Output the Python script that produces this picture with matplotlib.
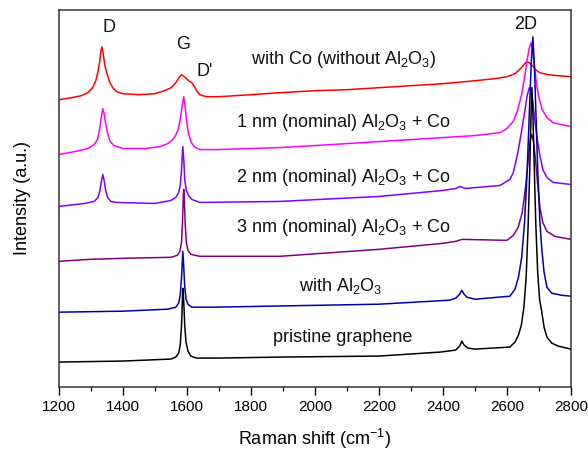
import matplotlib
matplotlib.use("Agg")
import matplotlib.pyplot as plt
from matplotlib.ticker import MultipleLocator

plt.rcParams['font.family'] = ['Liberation Sans', 'DejaVu Sans']
plt.rcParams['mathtext.default'] = 'regular'

# Raman shift (cm^-1) and intensity (a.u., stacked)
red_x = [1200, 1240, 1270, 1290, 1305, 1315, 1322, 1327, 1331, 1334, 1338, 1343, 1350, 1358, 1368, 1380,
         1400, 1450, 1500, 1530, 1550, 1565, 1575, 1583, 1592, 1605, 1615, 1622, 1630, 1640, 1660, 1700,
         1800, 1890, 2000, 2100, 2200, 2300, 2400, 2500, 2560, 2600, 2625, 2645, 2655, 2662, 2670, 2680,
         2690, 2703, 2730, 2760, 2800]
red_y = [288, 290, 292, 295, 300, 307, 316, 326, 336, 341, 335, 323, 314, 306, 300, 296,
         294, 293, 294, 297, 300, 305, 310, 313, 311, 307, 305, 302, 297, 293, 291, 291,
         293, 295, 297, 298, 300, 302, 304, 307, 309, 311, 314, 320, 324, 326, 325, 322,
         318, 315, 313, 312, 311]

mag_x = [1200, 1250, 1290, 1310, 1320, 1327, 1332, 1337, 1341, 1346, 1352, 1360, 1372, 1400, 1470, 1516,
         1540, 1556, 1566, 1574, 1580, 1585, 1590, 1594, 1599, 1605, 1612, 1622, 1640, 1700, 1890, 2000,
         2200, 2400, 2500, 2578, 2600, 2619, 2632, 2645, 2655, 2663, 2670, 2675, 2680, 2686, 2693, 2700,
         2710, 2725, 2744, 2770, 2800]
mag_y = [233, 236, 239, 243, 248, 258, 270, 279, 274, 264, 254, 246, 242, 239, 239, 241,
         244, 248, 253, 260, 270, 282, 291, 282, 266, 254, 246, 241, 238, 238, 240, 242,
         246, 250, 252, 255, 259, 266, 276, 292, 310, 328, 340, 345, 338, 322, 302, 290,
         278, 270, 265, 263, 261]

vio_x = [1200, 1280, 1310, 1322, 1328, 1333, 1337, 1341, 1346, 1352, 1362, 1380, 1500, 1550, 1565, 1574,
         1579, 1583, 1587, 1590, 1593, 1598, 1605, 1615, 1640, 1890, 2200, 2400, 2440, 2453, 2470, 2578,
         2609, 2620, 2634, 2645, 2655, 2663, 2670, 2675, 2681, 2688, 2695, 2703, 2712, 2725, 2745, 2800]
vio_y = [181, 184, 186, 190, 197, 207, 213, 207, 197, 190, 186, 185, 184, 187, 190, 195,
         202, 218, 241, 228, 208, 197, 192, 188, 185, 186, 191, 197, 199, 201, 199, 202,
         208, 215, 235, 255, 275, 292, 300, 297, 285, 265, 248, 232, 218, 210, 205, 203]

pur_x = [1200, 1300, 1400, 1550, 1570, 1578, 1583, 1586, 1589, 1590, 1592, 1595, 1598, 1603, 1612, 1640,
         1890, 2200, 2400, 2440, 2460, 2600, 2620, 2635, 2648, 2658, 2667, 2673, 2678, 2683, 2690, 2697,
         2703, 2712, 2725, 2750, 2800]
pur_y = [126, 128, 129, 130, 132, 136, 145, 165, 195, 198, 185, 160, 145, 137, 133, 131,
         131, 138, 144, 146, 148, 147, 152, 160, 175, 200, 230, 248, 253, 246, 225, 200,
         180, 165, 156, 151, 148]

blu_x = [1200, 1400, 1540, 1565, 1574, 1579, 1583, 1587, 1590, 1593, 1597, 1603, 1615, 1680, 2200, 2420,
         2440, 2452, 2459, 2466, 2475, 2500, 2609, 2625, 2636, 2646, 2655, 2663, 2670, 2676, 2681, 2686,
         2691, 2697, 2703, 2709, 2716, 2725, 2740, 2770, 2800]
blu_y = [75, 76, 78, 80, 84, 92, 110, 136, 120, 100, 88, 83, 80, 80, 83, 87,
         89, 93, 97, 93, 90, 88, 91, 98, 110, 130, 165, 215, 275, 325, 351, 320,
         270, 210, 165, 138, 115, 100, 94, 92, 91]

blk_x = [1200, 1400, 1550, 1565, 1574, 1579, 1583, 1587, 1590, 1593, 1597, 1603, 1612, 1630, 1700, 1890,
         2200, 2391, 2440, 2452, 2459, 2466, 2478, 2500, 2609, 2625, 2636, 2645, 2653, 2660, 2666, 2671,
         2675, 2678, 2681, 2685, 2690, 2696, 2702, 2709, 2716, 2725, 2740, 2760, 2800]
blk_y = [25, 26, 28, 30, 34, 42, 62, 99, 85, 62, 45, 36, 31, 29, 29, 30,
         31, 35, 37, 41, 46, 42, 39, 38, 40, 45, 52, 62, 80, 110, 160, 215,
         270, 300, 275, 225, 165, 115, 88, 75, 60, 50, 44, 41, 38]

labels = ["with Co (without Al$_2$O$_3$)", "1 nm (nominal) Al$_2$O$_3$ + Co",
          "2 nm (nominal) Al$_2$O$_3$ + Co", "3 nm (nominal) Al$_2$O$_3$ + Co",
          "with Al$_2$O$_3$", "pristine graphene"]
colors = ["#ff0000", "#ff00ff", "#8000ff", "#800080", "#0000a8", "#000000"]
peak_names = ["D", "G", "D'", "2D"]

fig = plt.figure(figsize=(5.88, 4.5), dpi=100)
ax = fig.add_axes([0.1003, 0.14, 0.8707, 0.838])

series = [(red_x, red_y), (mag_x, mag_y), (vio_x, vio_y), (pur_x, pur_y), (blu_x, blu_y), (blk_x, blk_y)]
for (x, y), c in zip(series, colors):
    ax.plot(x, y, color=c, lw=1.1)

ax.set_xlim(1200, 2800)
ax.set_ylim(0, 378)

label_pos = [(2090, 328), (2090, 265), (2090, 210), (2090, 160), (2082, 101), (2087, 50)]
for (lx, ly), t in zip(label_pos, labels):
    ax.text(lx, ly, t, fontsize=13, ha='center', va='center', color='#111111')

peak_pos = [(1357, 360), (1587, 343), (1655, 316), (2657, 363)]
for (px, py), t in zip(peak_pos, peak_names):
    ax.text(px, py, t, fontsize=13, ha='center', va='center', color='#111111')

ax.xaxis.set_major_locator(MultipleLocator(200))
ax.xaxis.set_minor_locator(MultipleLocator(100))
ax.tick_params(axis='x', which='major', direction='out', length=6, width=1, labelsize=11, top=False)
ax.tick_params(axis='x', which='minor', direction='out', length=3, width=1, top=False)
ax.set_yticks([])
for s in ax.spines.values():
    s.set_color('#333333')
    s.set_linewidth(1.1)

ax.set_xlabel("Raman shift (cm$^{-1}$)", fontsize=13, labelpad=9)
ax.set_ylabel("Intensity (a.u.)", fontsize=13, labelpad=20)

fig.savefig("out.png", dpi=100)
